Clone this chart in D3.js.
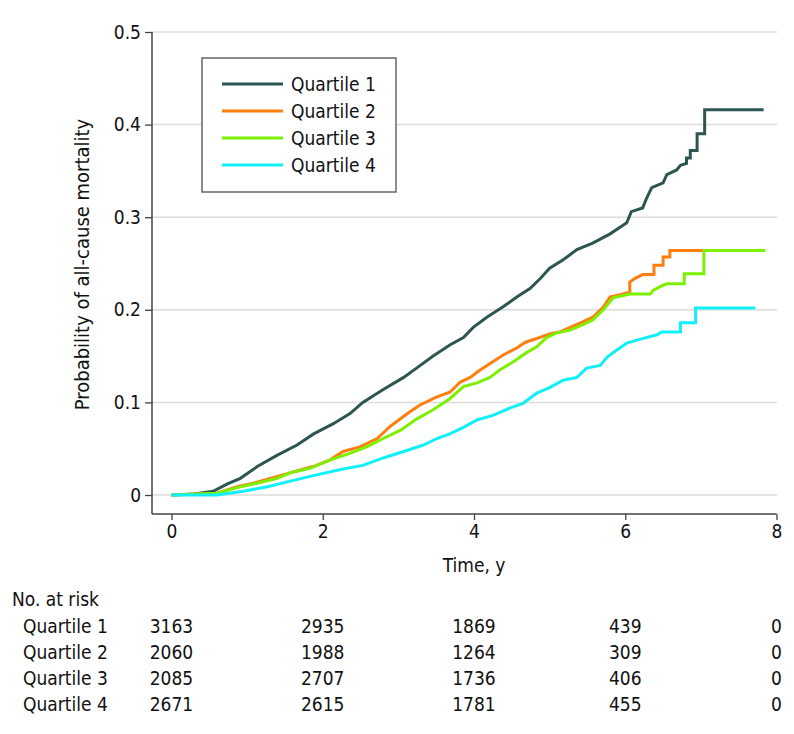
<!DOCTYPE html>
<html>
<head>
<meta charset="utf-8">
<script src="https://cdn.jsdelivr.net/npm/d3@7"></script>
<style>
  html, body { margin: 0; padding: 0; background: #fff; }
  svg text { font-family: "DejaVu Sans Condensed", "DejaVu Sans", sans-serif; font-stretch: condensed; fill: #111; }
</style>
</head>
<body>
<svg id="chart" width="794" height="734"></svg>
<script>
// ---- data ----
const seriesNames = ["Quartile 1", "Quartile 2", "Quartile 3", "Quartile 4"];
const seriesColors = ["#2d5653", "#ff7f0e", "#7cf000", "#10f0f8"];

// [time (y), cumulative probability]
const q1 = [[0,0],[0.30,0.001],[0.55,0.004],[0.74,0.012],[0.91,0.018],[1.14,0.031],[1.40,0.043],[1.66,0.054],[1.88,0.066],[2.14,0.077],[2.36,0.088],[2.53,0.100],[2.80,0.114],[3.07,0.127],[3.24,0.137],[3.46,0.150],[3.68,0.162],[3.86,0.170],[3.99,0.181],[4.17,0.192],[4.38,0.203],[4.57,0.214],[4.74,0.223],[4.88,0.234],[5.00,0.245],[5.18,0.254],[5.36,0.265],[5.57,0.272],[5.80,0.282],[6.02,0.294],[6.08,0.306],[6.23,0.310],[6.28,0.320],[6.35,0.332],[6.50,0.337],[6.55,0.346],[6.68,0.351],[6.73,0.356],[6.81,0.358],[6.81,0.364],[6.86,0.364],[6.86,0.372],[6.95,0.372],[6.95,0.390],[7.05,0.390],[7.05,0.416],[7.83,0.416]];
const q2 = [[0,0],[0.60,0.002],[0.87,0.009],[1.14,0.014],[1.40,0.020],[1.61,0.025],[1.88,0.031],[2.10,0.038],[2.27,0.047],[2.49,0.052],[2.72,0.061],[2.89,0.074],[3.12,0.088],[3.28,0.097],[3.51,0.106],[3.68,0.111],[3.82,0.122],[3.95,0.127],[4.08,0.135],[4.25,0.144],[4.38,0.151],[4.57,0.159],[4.68,0.165],[4.83,0.169],[5.00,0.174],[5.13,0.176],[5.27,0.181],[5.44,0.187],[5.57,0.192],[5.71,0.203],[5.80,0.214],[5.92,0.216],[6.06,0.219],[6.06,0.230],[6.13,0.234],[6.23,0.238],[6.38,0.238],[6.38,0.248],[6.50,0.248],[6.50,0.257],[6.59,0.257],[6.59,0.264],[7.67,0.264]];
const q3 = [[0,0],[0.60,0.002],[0.87,0.008],[1.14,0.013],[1.40,0.018],[1.57,0.024],[1.84,0.029],[2.10,0.038],[2.36,0.045],[2.58,0.052],[2.80,0.061],[3.03,0.070],[3.24,0.082],[3.46,0.092],[3.68,0.104],[3.86,0.117],[4.04,0.121],[4.21,0.127],[4.34,0.135],[4.52,0.144],[4.70,0.154],[4.83,0.160],[4.96,0.170],[5.09,0.175],[5.27,0.178],[5.44,0.184],[5.57,0.189],[5.71,0.200],[5.84,0.213],[6.06,0.217],[6.33,0.217],[6.37,0.221],[6.46,0.225],[6.55,0.228],[6.78,0.228],[6.78,0.239],[7.04,0.239],[7.04,0.264],[7.85,0.264]];
const q4 = [[0,0],[0.60,0.000],[0.95,0.004],[1.27,0.009],[1.57,0.015],[1.93,0.022],[2.27,0.028],[2.53,0.032],[2.80,0.040],[3.07,0.047],[3.33,0.054],[3.51,0.061],[3.68,0.066],[3.86,0.073],[4.04,0.081],[4.25,0.086],[4.48,0.094],[4.65,0.099],[4.83,0.110],[5.00,0.116],[5.18,0.124],[5.36,0.127],[5.49,0.137],[5.67,0.140],[5.76,0.149],[5.88,0.156],[6.02,0.164],[6.19,0.168],[6.42,0.173],[6.48,0.176],[6.73,0.176],[6.73,0.186],[6.93,0.186],[6.93,0.202],[7.72,0.202]];
const seriesData = [q1, q2, q3, q4];

const xTicks = [0, 2, 4, 6, 8];
const yTicks = [0, 0.1, 0.2, 0.3, 0.4, 0.5];
const yTickLabels = ["0", "0.1", "0.2", "0.3", "0.4", "0.5"];

const riskTimes = [0, 2, 4, 6, 8];
const risk1 = [3163, 2935, 1869, 439, 0];
const risk2 = [2060, 1988, 1264, 309, 0];
const risk3 = [2085, 2707, 1736, 406, 0];
const risk4 = [2671, 2615, 1781, 455, 0];
const riskRows = [risk1, risk2, risk3, risk4];

// ---- layout ----
const svg = d3.select("#chart");
const x = d3.scaleLinear().domain([0, 8]).range([171.5, 776.5]);
const y = d3.scaleLinear().domain([0, 0.5]).range([495, 32]);
const axisLeftX = 152, axisBottomY = 514;
const FS = 19;
const FF = '"DejaVu Sans Condensed", "DejaVu Sans", sans-serif';

// gridlines
svg.append("g").selectAll("line").data(yTicks).join("line")
  .attr("x1", axisLeftX).attr("x2", 777)
  .attr("y1", d => y(d)).attr("y2", d => y(d))
  .attr("stroke", "#dcdcdc").attr("stroke-width", 1.5);

// y axis
const yAxis = d3.axisLeft(y).tickValues(yTicks).tickSize(7).tickPadding(4)
  .tickFormat((d, i) => yTickLabels[i]);
const gy = svg.append("g").attr("transform", `translate(${axisLeftX},0)`).call(yAxis);
gy.select(".domain").attr("d", `M0,${y(0.5)}V${axisBottomY}`).attr("stroke", "#444").attr("stroke-width", 1.5);
gy.selectAll(".tick line").attr("stroke", "#444").attr("stroke-width", 1.3);
gy.selectAll(".tick text").attr("font-size", FS).attr("fill", "#111").style("font-family", FF);

// x axis
const xAxis = d3.axisBottom(x).tickValues(xTicks).tickSize(6).tickPadding(5).tickFormat(d3.format("d"));
const gx = svg.append("g").attr("transform", `translate(0,${axisBottomY})`).call(xAxis);
gx.select(".domain").attr("d", `M${axisLeftX},0H${x(8)}`).attr("stroke", "#444").attr("stroke-width", 1.5);
gx.selectAll(".tick line").attr("stroke", "#444").attr("stroke-width", 1.3);
gx.selectAll(".tick text").attr("font-size", FS).attr("fill", "#111").style("font-family", FF);

// axis titles
svg.append("text").attr("x", x(4)).attr("y", 572).attr("text-anchor", "middle")
  .attr("font-size", FS).text("Time, y");
svg.append("text").attr("transform", `translate(89,${(y(0) + y(0.5)) / 2 + 1}) rotate(-90)`)
  .attr("text-anchor", "middle").attr("font-size", 20).text("Probability of all-cause mortality");

// curves
const line = d3.line().x(d => x(d[0])).y(d => y(d[1])).curve(d3.curveLinear);
svg.append("g").selectAll("path").data(seriesData).join("path")
  .attr("d", line).attr("fill", "none")
  .attr("stroke", (d, i) => seriesColors[i]).attr("stroke-width", 3)
  .attr("stroke-linejoin", "miter").attr("stroke-linecap", "butt");

// legend
const lg = svg.append("g");
lg.append("rect").attr("x", 202).attr("y", 58).attr("width", 194).attr("height", 134)
  .attr("fill", "#fff").attr("stroke", "#666").attr("stroke-width", 1.5);
const rows = lg.selectAll("g.item").data(seriesNames).join("g").attr("class", "item")
  .attr("transform", (d, i) => `translate(0,${84 + i * 27})`);
rows.append("line").attr("x1", 222).attr("x2", 283).attr("y1", 0).attr("y2", 0)
  .attr("stroke", (d, i) => seriesColors[i]).attr("stroke-width", 3);
rows.append("text").attr("x", 291).attr("y", 7).attr("font-size", FS).text(d => d);

// risk table
svg.append("text").attr("x", 12).attr("y", 606).attr("font-size", FS).text("No. at risk");
const rt = svg.append("g");
riskRows.forEach((vals, r) => {
  const yy = 633 + r * 26;
  rt.append("text").attr("x", 23).attr("y", yy).attr("font-size", FS).text(seriesNames[r]);
  rt.selectAll(null).data(vals).join("text")
    .attr("x", (d, i) => x(riskTimes[i])).attr("y", yy)
    .attr("text-anchor", "middle").attr("font-size", FS).text(d => d);
});
</script>
</body>
</html>
